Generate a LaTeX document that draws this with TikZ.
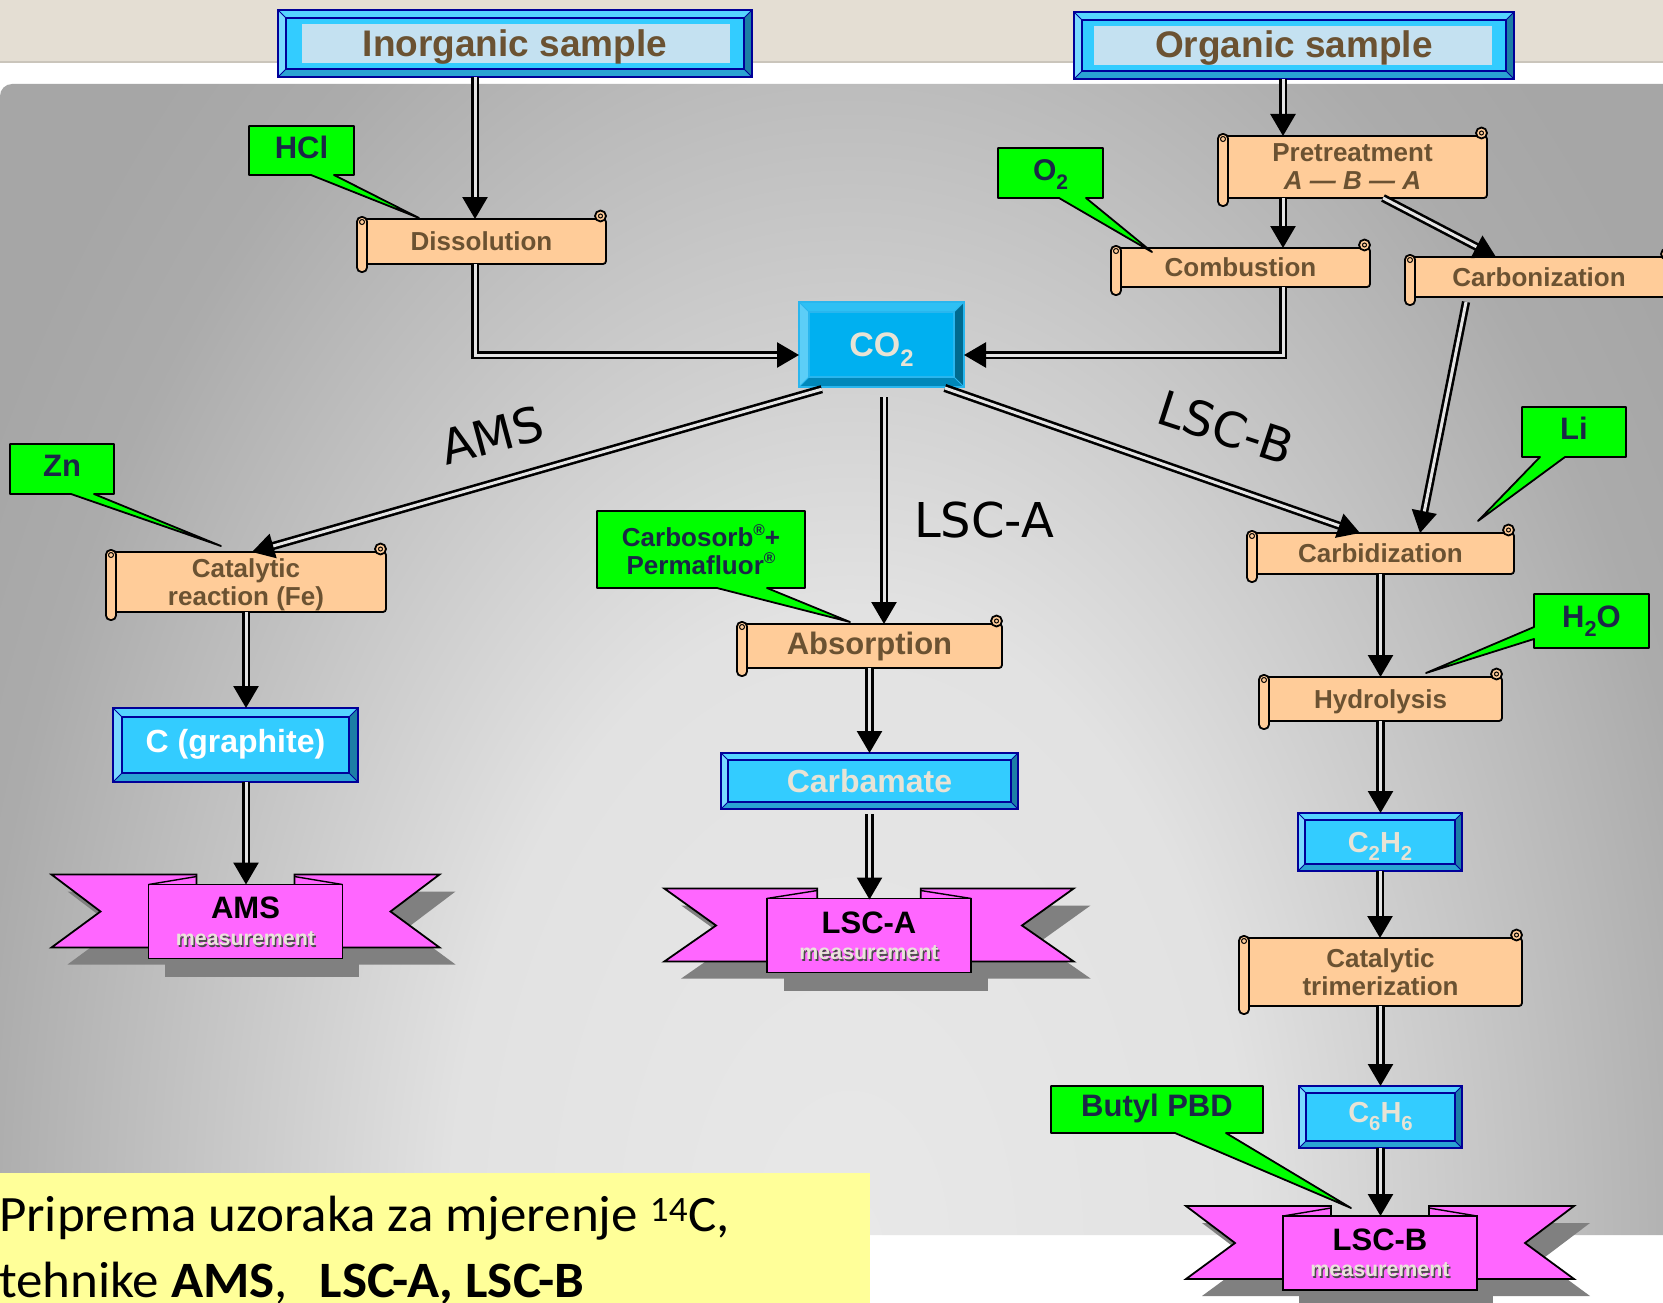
\documentclass[tikz,border=0pt]{standalone}
\usepackage{fontspec}
\usepackage{graphicx}
\setmainfont{Liberation Sans}
\newfontfamily\dejavu{DejaVu Sans}
\newfontfamily\carlito{Carlito}
\usetikzlibrary{arrows.meta,calc}

\definecolor{beigetop}{HTML}{E4DED3}
\definecolor{beigeline}{HTML}{CAC5BB}
\definecolor{bgIn}{HTML}{E8E8E8}
\definecolor{bgMid}{HTML}{E2E2E2}
\definecolor{bgOutA}{HTML}{ABABAB}
\definecolor{bgOut}{HTML}{A6A6A6}
\definecolor{peach}{HTML}{FFCC99}
\definecolor{brownt}{HTML}{6B5232}
\definecolor{limeg}{HTML}{00FF00}
\definecolor{navyt}{HTML}{1B2747}
\definecolor{pinkb}{HTML}{FF66FF}
\definecolor{shad}{HTML}{808080}
\definecolor{yell}{HTML}{FFFF99}
\definecolor{dblgap}{HTML}{E4E4E4}
\definecolor{bluface}{HTML}{33CCFF}
\definecolor{blutop}{HTML}{55D4FF}
\definecolor{bluleft}{HTML}{7AD9FF}
\definecolor{bluright}{HTML}{1C7EA6}
\definecolor{blubot}{HTML}{2AA3D3}
\definecolor{bluline}{HTML}{000099}
\definecolor{cofface}{HTML}{00B0F0}
\definecolor{coftop}{HTML}{2EC0F4}
\definecolor{cofleft}{HTML}{5CCEF7}
\definecolor{cofright}{HTML}{006A8F}
\definecolor{cofbot}{HTML}{0088BA}
\definecolor{cofline}{HTML}{29B6EE}
\definecolor{lightblue}{HTML}{C4E1F1}
\definecolor{palet}{HTML}{E8E3D5}
\definecolor{measshad}{HTML}{4A4A4A}
\definecolor{measfg}{HTML}{E9E5DA}

\pgfdeclareradialshading{bgshade}{\pgfpoint{0bp}{0bp}}{color(0bp)=(bgIn); color(10bp)=(bgMid); color(22bp)=(bgOutA); color(25bp)=(bgOut); color(50bp)=(bgOut)}

\newcommand\sbs[1]{\raisebox{-.3em}{\scalebox{.7}{#1}}}
\newcommand\regm{\raisebox{.42em}{\scalebox{.6}{\textregistered}}}
\newcommand\liftup[2]{\raisebox{#1}[\height][\depth]{#2}}
\newcommand\measw[1]{\makebox[0pt][l]{\hspace{1.4pt}\raisebox{-1.4pt}{\textcolor{measshad}{#1}}}\textcolor{measfg}{#1}}

\newcommand\BevelBox[6]{%
  \fill[#6face] (#1,#2) rectangle (#3,#4);
  \fill[#6top] (#1,#2) -- (#3,#2) -- ({#3-#5},{#2+#5}) -- ({#1+#5},{#2+#5}) -- cycle;
  \fill[#6left] (#1,#2) -- ({#1+#5},{#2+#5}) -- ({#1+#5},{#4-#5}) -- (#1,#4) -- cycle;
  \fill[#6right] (#3,#2) -- (#3,#4) -- ({#3-#5},{#4-#5}) -- ({#3-#5},{#2+#5}) -- cycle;
  \fill[#6bot] (#1,#4) -- (#3,#4) -- ({#3-#5},{#4-#5}) -- ({#1+#5},{#4-#5}) -- cycle;
  \draw[#6line, line width=1.2pt] ({#1+#5},{#2+#5}) rectangle ({#3-#5},{#4-#5});
  \draw[#6line, line width=0.8pt] (#1,#2) -- ({#1+#5},{#2+#5}) (#3,#2) -- ({#3-#5},{#2+#5}) (#1,#4) -- ({#1+#5},{#4-#5}) (#3,#4) -- ({#3-#5},{#4-#5});
  \draw[#6line, line width=1.6pt] (#1,#2) rectangle (#3,#4);
}
\newcommand\ScrollShape[4]{%
  \draw[scrl, rounded corners=3pt] ({#1+5},#2) rectangle (#3,#4);
  \draw[scrl] ({#3-5.5},{#2-3}) circle[radius=5.5pt];
  \draw[scrlthin] ({#3-5.5},{#2-3}) circle[radius=2pt];
  \draw[scrl, rounded corners=4.5pt] (#1,{#2-2}) rectangle ({#1+10},{#4+8});
  \draw[scrlthin] ({#1+5},{#2+3}) circle[radius=2.5pt];
}
\newcommand\CallBottom[8]{%
  \draw[call] (#1,#2) -- (#3,#2) -- (#3,#4) -- (#6,#4) -- (#7,#8) -- (#5,#4) -- (#1,#4) -- cycle;
}
\newcommand\CallLeft[8]{%
  \draw[call] (#1,#2) -- (#3,#2) -- (#3,#4) -- (#1,#4) -- (#1,#6) -- (#7,#8) -- (#1,#5) -- cycle;
}
\newcommand\RibbonShape[3]{%
  \begin{scope}[shift={(#1,#2)}, xscale=#3]
    \fill[shad] (-178,-30) -- (-33,-30) -- (-33,43) -- (-178,43) -- (-129,7) -- cycle;
    \fill[shad] (210,-30) -- (65,-30) -- (65,43) -- (210,43) -- (161,7) -- cycle;
    \fill[shad] (-81,-20) rectangle (113,55);
    \draw[rib] (-194,-47) -- (-49,-47) -- (-49,26) -- (-194,26) -- (-145,-10) -- cycle;
    \draw[rib] (194,-47) -- (49,-47) -- (49,26) -- (194,26) -- (145,-10) -- cycle;
    \draw[rib] (-97,-37) rectangle (97,37);
    \draw[ribline] (-97,-37) -- (-49,-45);
    \draw[ribline] (97,-37) -- (49,-45);
  \end{scope}
}

\tikzset{
  boxnode/.style={inner sep=0pt, outer sep=0pt, align=center, text depth=0pt},
  sctext/.style={boxnode, text=brownt, font=\bfseries\fontsize{26}{28}\selectfont},
  bluetext/.style={boxnode, font=\bfseries\fontsize{32}{36}\selectfont},
  calltext/.style={boxnode, text=navyt, font=\bfseries\fontsize{31}{34}\selectfont},
  ribnode/.style={inner sep=0pt, outer sep=0pt},
  ribtitle/.style={boxnode, text=black, font=\bfseries\fontsize{31}{34}\selectfont},
  measnode/.style={boxnode, font=\bfseries\fontsize{21.4}{26}\selectfont},
  pathlbl/.style={boxnode, text=black, font=\dejavu\fontsize{48}{56}\selectfont},
  captxt/.style={inner sep=0pt, outer sep=0pt, text=black, font=\carlito\fontsize{51}{60}\selectfont},
  scrl/.style={draw=black, line width=1.8pt, fill=peach},
  scrlthin/.style={draw=black, line width=1pt},
  call/.style={draw=black, line width=1.8pt, fill=limeg, line join=round},
  rib/.style={draw=black, line width=1.8pt, fill=pinkb, line join=miter},
  ribline/.style={draw=black, line width=1.4pt},
  dblarrow/.style={draw=black, line width=2.6pt, double=dblgap, double distance=3pt, -{Triangle[length=22pt,width=25pt]}}
}

\begin{document}
\begin{tikzpicture}[x=1pt,y=-1pt]
\useasboundingbox (0,0) rectangle (1663,1303);
% background
\fill[white] (0,0) rectangle (1663,1303);
\fill[beigetop] (0,0) rectangle (1663,62);
\fill[beigeline] (0,61) rectangle (1663,63.5);
\begin{scope}
  \clip[rounded corners=12pt] (0,84) rectangle (1700,1235);
  \shade[shading=bgshade] (-150,-350) rectangle (1850,2850);
\end{scope}
\fill[yell] (0,1173) rectangle (870,1303);

% sample boxes
\BevelBox{278}{10}{752}{77}{8}{blu}
\fill[lightblue] (302,24) rectangle (730,63);
\node[boxnode, text=brownt, font=\bfseries\fontsize{37}{40}\selectfont, minimum width=474pt, minimum height=67pt] (inorg) at (515,43.5) {Inorganic sample};

\BevelBox{1074}{12}{1514}{79}{8}{blu}
\fill[lightblue] (1094,26) rectangle (1492,65);
\node[boxnode, text=brownt, font=\bfseries\fontsize{37}{40}\selectfont, minimum width=440pt, minimum height=67pt] (org) at (1294,45.5) {\liftup{1.5pt}{Organic sample}};

% scrolls
\ScrollShape{357}{219}{606}{264}
\node[sctext, minimum width=249pt, minimum height=45pt] (diss) at (481.5,241.5) {Dissolution};

\ScrollShape{1218}{136}{1487}{198}
\node[sctext, minimum width=269pt, minimum height=62pt] (pret) at (1352.5,167) {Pretreatment\\\textit{A — B — A}};

\ScrollShape{1111}{248}{1370}{287}
\node[sctext, minimum width=259pt, minimum height=39pt] (comb) at (1240.5,267.5) {Combustion};

\ScrollShape{1405}{257}{1672}{297}
\node[sctext, minimum width=255pt, minimum height=40pt] (carbz) at (1539,277) {Carbonization};

\ScrollShape{106}{552}{386}{612}
\node[sctext, minimum width=280pt, minimum height=60pt] (catr) at (246,582) {Catalytic\\reaction (Fe)};

\ScrollShape{737}{624}{1002}{668}
\node[sctext, font=\bfseries\fontsize{31}{34}\selectfont, minimum width=265pt, minimum height=44pt] (absorp) at (869.5,646) {\liftup{3pt}{Absorption}};

\ScrollShape{1247}{533}{1514}{574}
\node[sctext, minimum width=267pt, minimum height=41pt] (carbid) at (1380.5,553.5) {Carbidization};

\ScrollShape{1259}{677}{1502}{721}
\node[sctext, minimum width=243pt, minimum height=44pt] (hydro) at (1380.5,699) {Hydrolysis};

\ScrollShape{1239}{938}{1522}{1006}
\node[sctext, minimum width=283pt, minimum height=68pt] (trimer) at (1380.5,972) {Catalytic\\trimerization};

% blue boxes
\BevelBox{799}{302}{964}{387}{10}{cof}
\node[bluetext, text=palet, font=\bfseries\fontsize{34}{38}\selectfont, minimum width=165pt, minimum height=85pt] (co2) at (881.5,344.5) {CO\sbs{2}};

\BevelBox{113}{708}{358}{782}{9}{blu}
\node[bluetext, text=white, minimum width=245pt, minimum height=74pt] (graph) at (235.5,745) {\liftup{4pt}{C (graphite)}};

\BevelBox{721}{753}{1018}{809}{7}{blu}
\node[bluetext, text=palet, minimum width=297pt, minimum height=56pt] (carbam) at (869.5,781) {Carbamate};

\BevelBox{1298}{813}{1462}{871}{7}{blu}
\node[bluetext, text=palet, font=\bfseries\fontsize{29}{32}\selectfont, minimum width=164pt, minimum height=58pt] (c2h2) at (1380,842) {C\sbs{2}H\sbs{2}};

\BevelBox{1299}{1086}{1462}{1148}{7}{blu}
\node[bluetext, text=palet, font=\bfseries\fontsize{29}{32}\selectfont, minimum width=163pt, minimum height=62pt] (c6h6) at (1380.5,1117) {\liftup{5pt}{C\sbs{6}H\sbs{6}}};

% callouts
\CallBottom{249}{126}{354}{175}{311}{334}{419}{218}
\node[calltext] (hcl) at (301.5,147.5) {HCl};
\CallBottom{998}{148}{1103}{198}{1059}{1086}{1152}{252}
\node[calltext, font=\bfseries\fontsize{30}{34}\selectfont] (o2) at (1050.5,170) {O\sbs{2}};
\CallBottom{10}{444}{114}{494}{71}{94}{221}{546}
\node[calltext] (zn) at (62,466) {Zn};
\CallBottom{597}{511}{805}{588}{717}{767}{850}{622}
\node[calltext, font=\bfseries\fontsize{26}{28}\selectfont] (carbo) at (701,549.5) {Carbosorb\regm+\\Permafluor\regm};
\CallBottom{1522}{407}{1626}{457}{1540}{1565}{1478}{521}
\node[calltext] (li) at (1574,428.5) {Li};
\CallLeft{1534}{594}{1649}{648}{627}{639}{1426}{673}
\node[calltext] (h2o) at (1591.5,616.5) {H\sbs{2}O};
\CallBottom{1051}{1086}{1263}{1133}{1175}{1226}{1351}{1208}
\node[calltext] (butyl) at (1157,1105.5) {Butyl PBD};

% ribbons
\RibbonShape{245.5}{921.5}{1}
\node[ribnode, minimum width=194pt, minimum height=74pt] (amsb) at (245.5,921.5) {};
\node[ribtitle] (amst) at (245.5,907.5) {AMS};
\node[measnode] (amsm) at (245.5,939) {\measw{measurement}};

\RibbonShape{869}{935.5}{1.055}
\node[ribnode, minimum width=205pt, minimum height=72pt] (lscab) at (869,935.5) {};
\node[ribtitle] (lscat) at (869,923) {LSC-A};
\node[measnode] (lscam) at (869,953) {\measw{measurement}};

\RibbonShape{1380}{1253}{1}
\node[ribnode, minimum width=194pt, minimum height=74pt] (lscbb) at (1380,1253) {};
\node[ribtitle] (lscbt) at (1380,1240) {LSC-B};
\node[measnode] (lscbm) at (1380,1270) {\measw{measurement}};

% path labels
\node[pathlbl, rotate=15] (lblams) at (492,435) {AMS};
\node[pathlbl] (lbllsca) at (984,519.5) {LSC-A};
\node[pathlbl, rotate=-18] (lbllscb) at (1226,427) {LSC-B};

% caption
\node[captxt, anchor=base west] (cap1) at (-1,1231) {\scalebox{1.04}[1]{Priprema uzoraka za mjerenje \textsuperscript{14}C,}};
\node[captxt, anchor=base west] (cap2) at (-1,1297) {\scalebox{1.04}[1]{tehnike \textbf{AMS},\hspace{0.6em}\textbf{LSC-A, LSC-B}}};

% connectors
\coordinate (colI) at (475,0);
\coordinate (colO) at (1283,0);
\coordinate (colA) at (884,0);

\draw[dblarrow] (inorg.south -| colI) -- (diss.north -| colI);
\draw[dblarrow] (diss.south -| colI) |- ([yshift=-10.5pt]co2.west);
\draw[dblarrow] (org.south -| colO) -- (pret.north -| colO);
\draw[dblarrow] (pret.south -| colO) -- (comb.north -| colO);
\draw[dblarrow] ([xshift=30.5pt]pret.south) -- ([xshift=-43pt]carbz.north);
\draw[dblarrow] (comb.south -| colO) |- ([yshift=-10.5pt]co2.east);
\draw[dblarrow, shorten <=5pt] ([xshift=-72pt]carbz.south) -- ([xshift=39.5pt]carbid.north);
\draw[dblarrow, shorten <=8pt] ([xshift=-52pt]co2.south) -- ([xshift=6pt]catr.north);
\draw[dblarrow, shorten <=10pt] (co2.south -| colA) -- (absorp.north -| colA);
\draw[dblarrow, shorten <=3pt] ([xshift=-22pt]co2.south east) -- ([xshift=-20.5pt]carbid.north);
\draw[dblarrow] (catr.south) -- (catr.south |- graph.north);
\draw[dblarrow] (catr.south |- graph.south) -- (catr.south |- amsb.north);
\draw[dblarrow] (absorp.south) -- (absorp.south |- carbam.north);
\draw[dblarrow, shorten <=5pt] (carbam.south) -- (carbam.south |- lscab.north);
\draw[dblarrow] (carbid.south) -- (carbid.south |- hydro.north);
\draw[dblarrow] (hydro.south) -- (hydro.south |- c2h2.north);
\draw[dblarrow] (c2h2.south) -- (c2h2.south |- trimer.north);
\draw[dblarrow] (trimer.south) -- (trimer.south |- c6h6.north);
\draw[dblarrow] (c6h6.south) -- (c6h6.south |- lscbb.north);
\end{tikzpicture}
\end{document}
